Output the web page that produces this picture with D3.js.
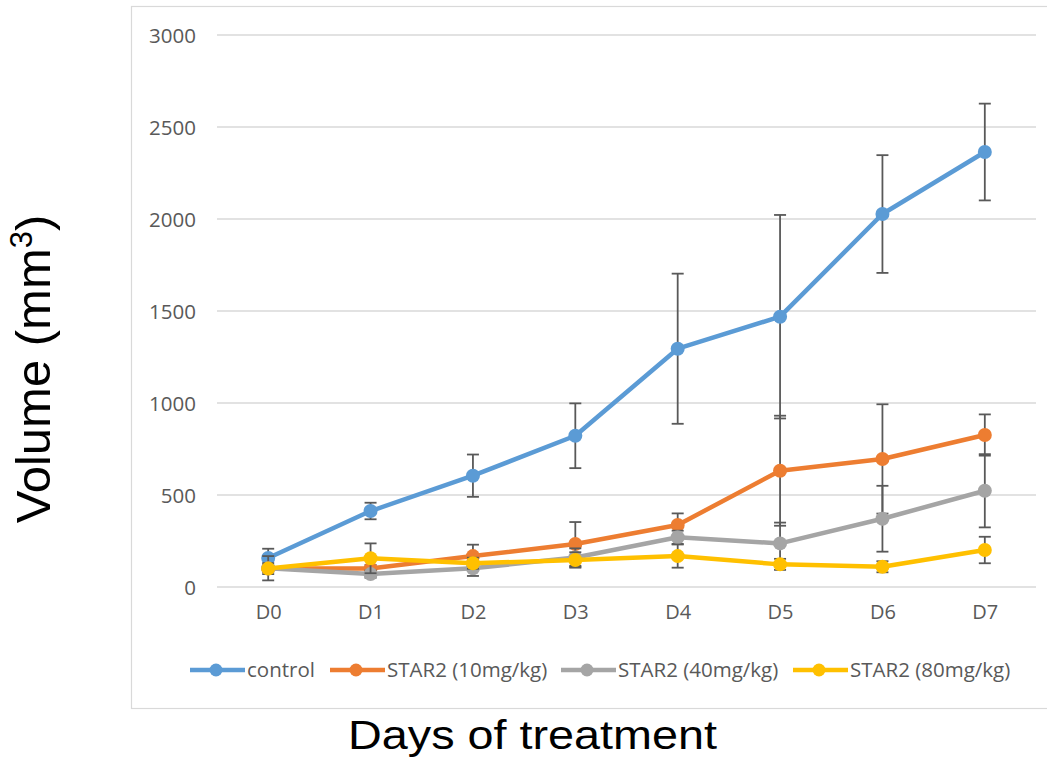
<!DOCTYPE html>
<html><head><meta charset="utf-8">
<script src="https://cdn.jsdelivr.net/npm/d3@7"></script>
<style>body{margin:0;background:#fff}svg{display:block}</style>
</head><body>
<script>
const categories = ["D0","D1","D2","D3","D4","D5","D6","D7"];
const seriesNames = ["control","STAR2 (10mg/kg)","STAR2 (40mg/kg)","STAR2 (80mg/kg)"];
const controlValues = [158, 413, 605, 822, 1295, 1469, 2027, 2364];
const controlErrors = [50, 45, 115, 176, 408, 553, 320, 263];
const star10Values = [100, 100, 168, 234, 337, 632, 696, 826];
const star10Errors = [20, 20, 62, 119, 63, 299, 297, 112];
const star40Values = [102, 70, 102, 160, 270, 237, 371, 523];
const star40Errors = [66, 20, 42, 50, 36, 113, 179, 199];
const star80Values = [100, 156, 129, 147, 168, 123, 110, 201];
const star80Errors = [30, 81, 30, 42, 63, 30, 30, 72];
const yTicks = [0, 500, 1000, 1500, 2000, 2500, 3000];
const colors = ["#5B9BD5","#ED7D31","#A5A5A5","#FFC000"];

const series = [
  {name: seriesNames[0], values: controlValues, errors: controlErrors, color: colors[0]},
  {name: seriesNames[1], values: star10Values, errors: star10Errors, color: colors[1]},
  {name: seriesNames[2], values: star40Values, errors: star40Errors, color: colors[2]},
  {name: seriesNames[3], values: star80Values, errors: star80Errors, color: colors[3]}
];

const W = 1047, H = 759;
const svg = d3.select("body").append("svg").attr("width", W).attr("height", H);

// chart area border
svg.append("rect").attr("x", 131.5).attr("y", 6.5).attr("width", 1000).attr("height", 702)
  .attr("fill", "#fff").attr("stroke", "#d9d9d9").attr("stroke-width", 1.2);

const x = d3.scalePoint().domain(categories).range([217, 1036]).padding(0.5);
const y = d3.scaleLinear().domain([0, 3000]).range([587, 35]);

// gridlines
svg.append("g").selectAll("line").data(yTicks).join("line")
  .attr("x1", 217).attr("x2", 1036)
  .attr("y1", d => y(d)).attr("y2", d => y(d))
  .attr("stroke", "#d9d9d9").attr("stroke-width", 1.5);

// y axis tick labels
const yAxis = d3.axisLeft(y).tickValues(yTicks).tickFormat(d3.format("d")).tickSize(0).tickPadding(0);
const gy = svg.append("g").attr("transform", "translate(196,0)").call(yAxis);
gy.select(".domain").remove();
gy.selectAll("text").attr("font-family", "Open Sans").attr("font-size", 20.5)
  .attr("fill", "#595959").attr("dy", "0.35em");

// x axis labels
const xAxis = d3.axisBottom(x).tickSize(0).tickPadding(0);
const gx = svg.append("g").attr("transform", "translate(0,605)").call(xAxis);
gx.select(".domain").remove();
gx.selectAll("text").attr("font-family", "Open Sans").attr("font-size", 20)
  .attr("fill", "#595959").attr("dy", "0.7em");

const line = d3.line().x((d, i) => x(categories[i])).y(d => y(d));

series.forEach(s => {
  const g = svg.append("g");
  const eb = g.append("g").attr("stroke", "#595959").attr("stroke-width", 1.8);
  s.values.forEach((v, i) => {
    const cx = x(categories[i]);
    const y1 = y(v + s.errors[i]), y2 = y(v - s.errors[i]);
    eb.append("line").attr("x1", cx).attr("x2", cx).attr("y1", y1).attr("y2", y2);
    eb.append("line").attr("x1", cx - 6).attr("x2", cx + 6).attr("y1", y1).attr("y2", y1);
    eb.append("line").attr("x1", cx - 6).attr("x2", cx + 6).attr("y1", y2).attr("y2", y2);
  });
  g.append("path").attr("d", line(s.values)).attr("fill", "none")
    .attr("stroke", s.color).attr("stroke-width", 4.5).attr("stroke-linejoin", "round");
  g.selectAll("circle").data(s.values).join("circle")
    .attr("cx", (d, i) => x(categories[i])).attr("cy", d => y(d)).attr("r", 7)
    .attr("fill", s.color);
});

// legend
const legendX = [190, 330, 561, 793];
const lg = svg.append("g");
series.forEach((s, i) => {
  const lx = legendX[i], ly = 670;
  lg.append("line").attr("x1", lx).attr("x2", lx + 55).attr("y1", ly).attr("y2", ly)
    .attr("stroke", s.color).attr("stroke-width", 4.5);
  lg.append("circle").attr("cx", lx + 26).attr("cy", ly).attr("r", 6.5).attr("fill", s.color);
  lg.append("text").attr("x", lx + 57).attr("y", ly).attr("dy", "0.35em")
    .attr("font-family", "Open Sans").attr("font-size", 20.5)
    .attr("fill", "#595959").text(s.name);
});

// axis titles
svg.append("text").attr("x", 348).attr("y", 749)
  .attr("font-family", "Liberation Sans, Arial, sans-serif").attr("font-size", 40)
  .attr("textLength", 369).attr("lengthAdjust", "spacingAndGlyphs")
  .attr("fill", "#000").text("Days of treatment");

const yt = svg.append("text").attr("transform", "translate(50,369) rotate(-90)")
  .attr("text-anchor", "middle")
  .attr("font-family", "Liberation Sans, Arial, sans-serif").attr("font-size", 49)
  .attr("fill", "#000");
yt.append("tspan").text("Volume (mm");
yt.append("tspan").attr("font-size", 31).attr("dy", -18).text("3");
yt.append("tspan").attr("dy", 18).text(")");
</script>
</body></html>
